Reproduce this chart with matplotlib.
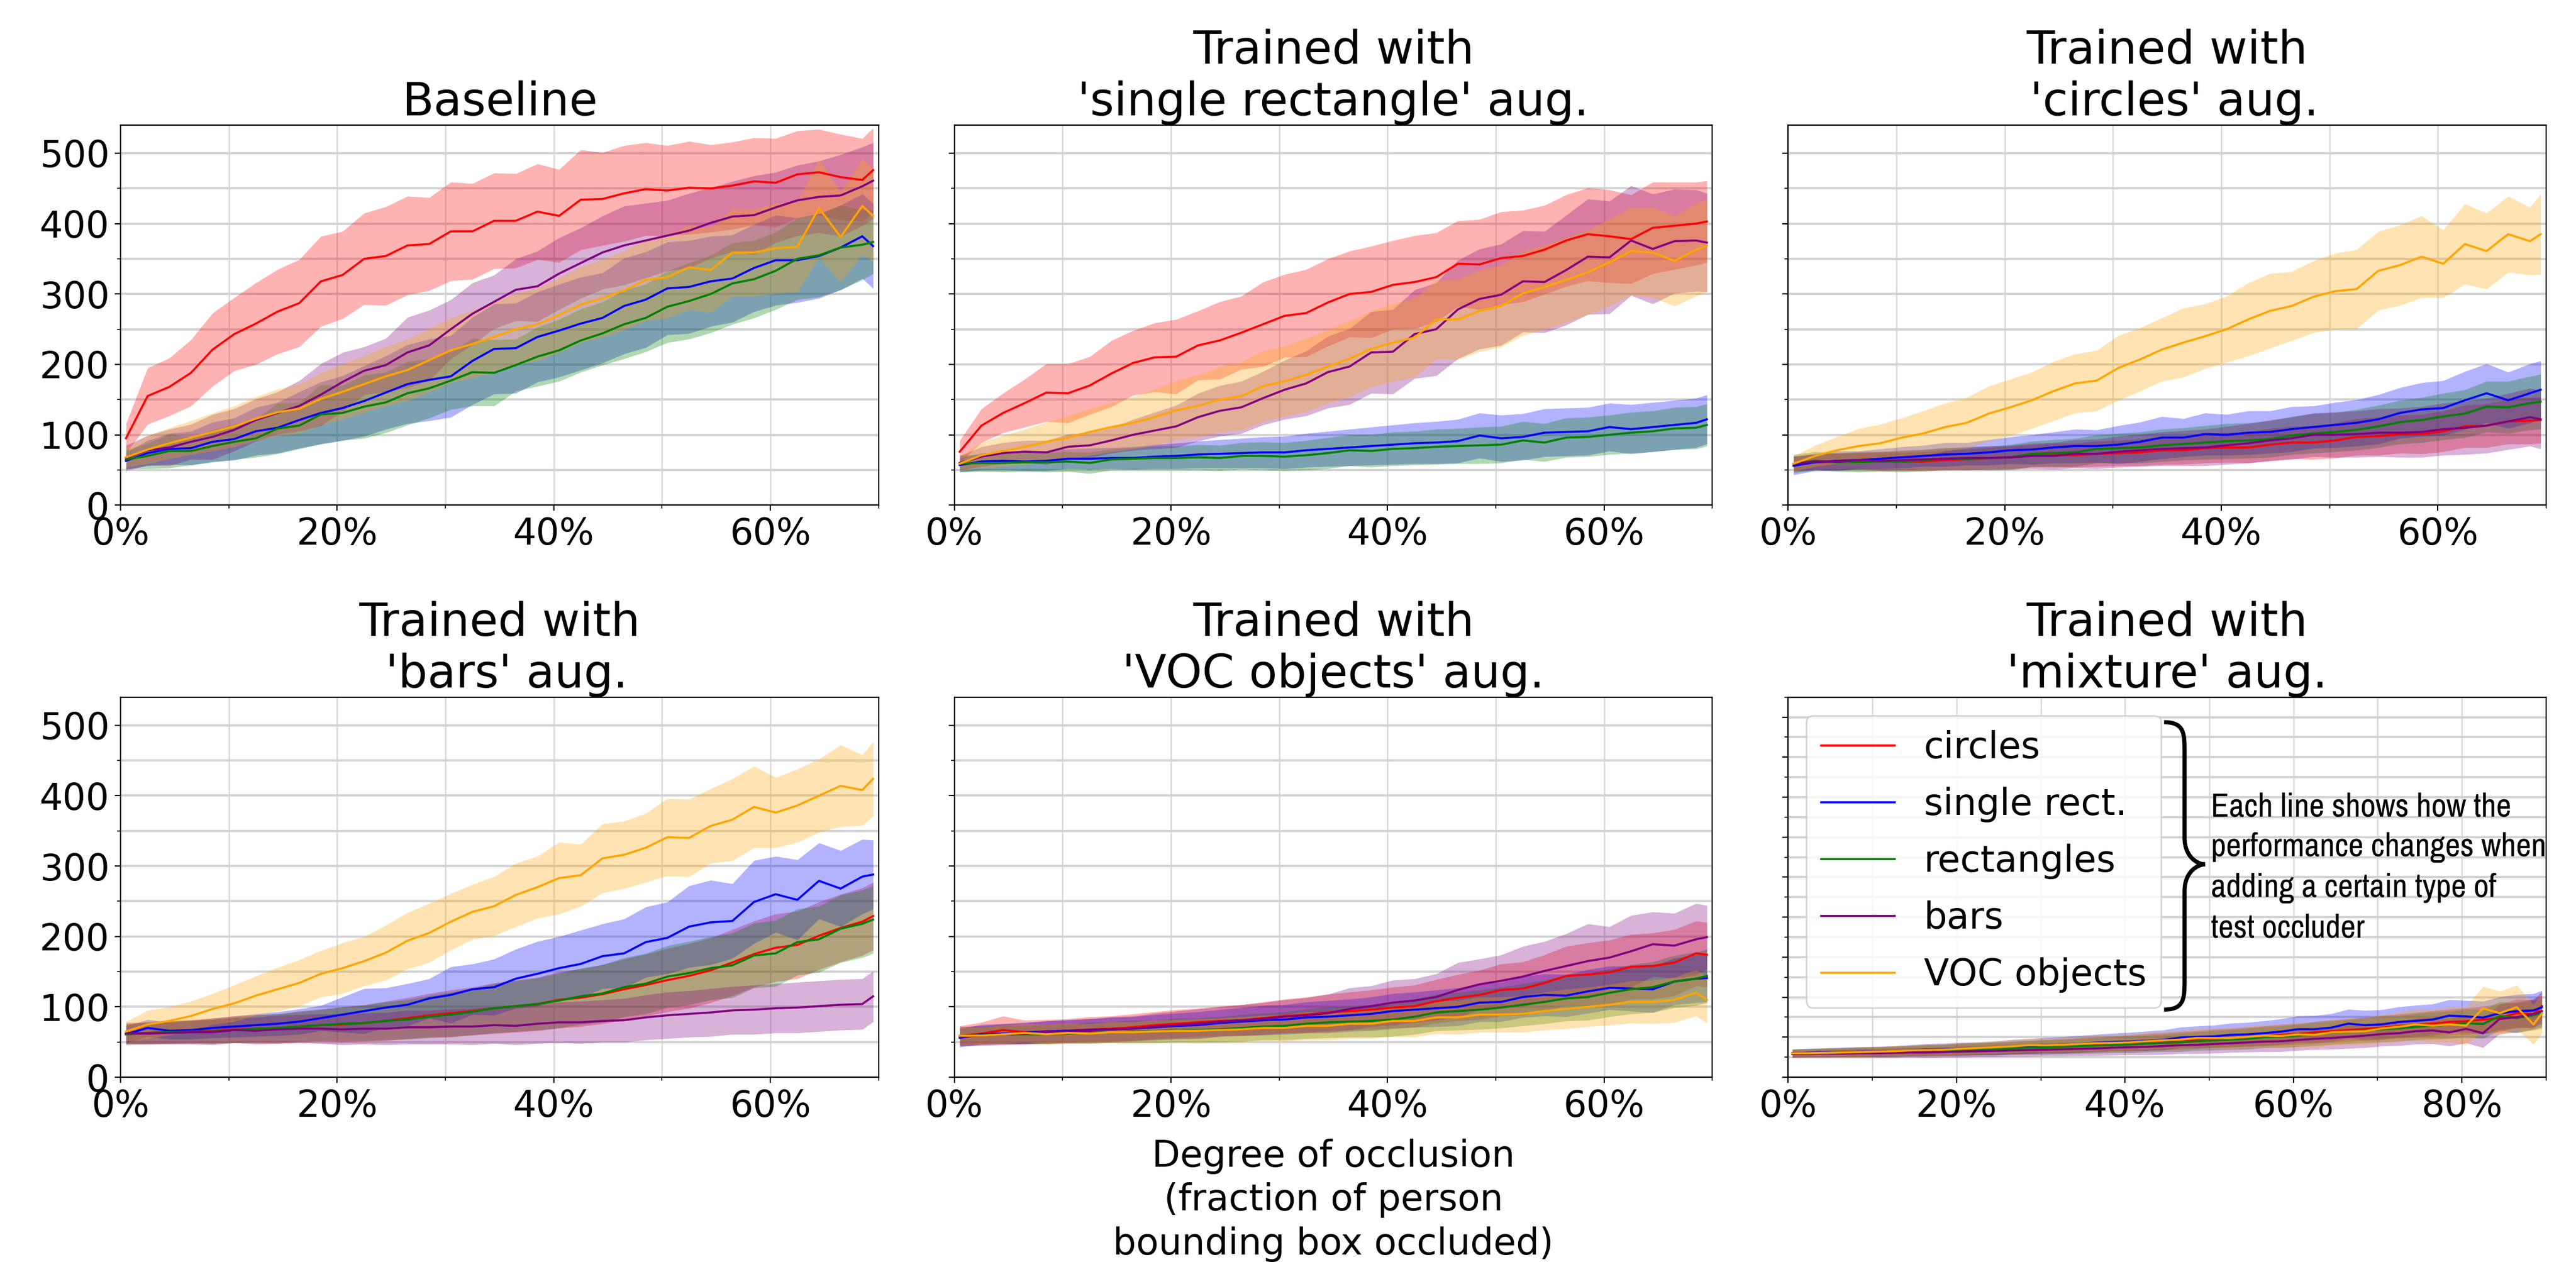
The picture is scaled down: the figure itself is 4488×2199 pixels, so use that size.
import numpy as np
import matplotlib
matplotlib.use("Agg")
import matplotlib.pyplot as plt
from matplotlib import font_manager
from matplotlib.ticker import MultipleLocator, PercentFormatter
from matplotlib.path import Path
from matplotlib.patches import PathPatch

# occlusion fractions (x) - panels 1-5 go to 70%, the mixture panel to 90%
OCC = np.r_[np.arange(0.5, 69, 2), 69.5] / 100
OCC_MIX = np.r_[np.arange(0.5, 89, 2), 89.5] / 100

LABELS = ["circles", "single rect.", "rectangles", "bars", "VOC objects"]
COLORS = ["red", "blue", "green", "purple", "orange"]
TITLES = ["Baseline",
          "Trained with\n'single rectangle' aug.",
          "Trained with\n 'circles' aug.",
          "Trained with\n 'bars' aug.",
          "Trained with\n'VOC objects' aug.",
          "Trained with\n'mixture' aug."]
NOTE_LINES = ["Each line shows how the", "performance changes when",
              "adding a certain type of", "test occluder"]

# --- Baseline ---
base_circ = [95,155,168,188,221,243,258,275,287,318,327,350,354,369,371,389,389,404,404,417,411,434,435,443,449,447,451,450,454,460,458,470,473,466,462,476]
base_circ_sd = [21,40,41,47,52,52,58,60,62,64,62,65,70,70,66,70,68,68,67,68,66,71,66,68,66,64,66,62,62,62,63,62,61,61,59,60]
base_srect = [63,74,80,81,90,94,105,110,121,131,138,148,160,172,178,183,205,222,223,239,248,258,266,283,292,308,310,318,322,337,348,348,354,366,382,368]
base_srect_sd = [12,18,22,24,28,30,34,36,40,44,46,50,52,56,58,58,62,64,64,64,66,66,64,68,68,66,66,64,62,62,64,60,60,60,60,60]
base_rect = [65,70,77,77,84,90,95,109,113,129,131,140,146,159,166,177,189,188,199,211,220,234,244,257,266,282,290,300,315,321,333,350,355,366,370,374]
base_rect_sd = [13,18,24,20,23,25,27,36,33,42,39,45,43,45,42,41,48,47,37,42,44,45,45,49,48,51,54,55,58,55,55,58,59,60,50,45]
base_bars = [67,78,82,90,97,107,121,131,141,157,175,191,199,217,227,250,272,289,306,311,329,344,359,369,376,383,390,401,410,412,423,433,438,440,453,461]
base_bars_sd = [18,21,26,25,32,30,30,30,36,44,42,34,38,50,50,42,44,38,44,50,51,50,52,56,53,50,53,50,50,56,50,50,51,58,56,54]
base_voc = [68,79,88,96,104,112,123,132,137,151,161,172,183,192,206,220,229,239,250,257,270,285,294,305,320,324,338,334,359,359,365,367,422,381,425,411]
base_voc_sd = [14,20,22,24,27,29,31,33,35,37,39,40,42,44,45,46,48,50,51,52,53,54,55,56,58,58,60,60,62,62,64,64,70,64,68,66]

# --- single rectangle aug. ---
sr_circ = [76,113,131,145,160,159,170,187,202,210,211,227,234,245,257,269,273,288,300,303,313,317,324,343,342,351,354,363,376,385,382,378,394,397,400,403]
sr_circ_sd = [16,24,28,34,41,42,41,47,46,49,53,49,55,52,60,59,62,62,61,65,63,66,63,61,64,66,65,63,65,66,66,63,65,62,59,58]
sr_srect = [57,62,63,62,63,66,66,67,67,69,70,72,73,74,75,75,78,80,82,84,86,88,89,91,99,95,97,103,104,105,111,108,111,114,117,122]
sr_srect_sd = [10,12,13,13,14,14,15,15,16,17,18,19,20,21,22,23,24,25,26,27,28,29,30,31,32,33,33,34,34,34,34,35,35,35,35,35]
sr_rect = [59,60,60,61,61,62,60,65,66,67,67,68,67,70,70,69,71,74,78,77,80,81,83,84,85,86,92,89,96,97,100,103,105,109,110,114]
sr_rect_sd = [12,12,13,13,14,14,15,15,16,17,17,18,18,19,20,20,21,22,22,23,24,24,25,25,26,26,27,27,28,28,28,29,29,30,30,30]
sr_bars = [60,69,74,76,75,83,85,92,100,106,112,125,134,139,152,164,173,189,197,217,218,243,250,278,293,299,318,317,334,353,352,376,364,375,376,373]
sr_bars_sd = [10,14,15,16,17,18,18,18,22,26,30,34,36,37,38,42,46,51,54,58,60,63,66,70,71,72,72,72,78,82,80,78,78,74,72,70]
sr_voc = [59,71,77,83,90,96,104,111,117,125,135,141,150,155,169,176,185,197,208,222,231,238,264,264,276,283,301,310,320,331,345,361,359,347,363,369]
sr_voc_sd = [10,18,22,25,28,31,33,35,37,40,42,44,46,48,50,50,52,52,54,54,55,56,56,57,58,58,60,60,60,60,62,62,64,64,66,66]

# --- circles aug. ---
ci_circ = [59,61,62,62,62,62,62,64,65,67,68,70,71,71,73,74,75,78,78,81,82,82,86,89,89,92,97,98,101,101,105,112,113,119,120,121]
ci_circ_sd = [11,11,12,12,13,13,14,14,15,15,16,16,17,17,18,18,19,20,20,21,21,22,23,23,24,25,26,27,27,28,29,30,31,32,33,33]
ci_srect = [56,61,63,64,66,68,70,72,73,75,78,79,82,84,84,86,90,96,96,101,100,103,104,108,111,114,117,122,131,136,138,149,159,149,159,164]
ci_srect_sd = [13,12,14,13,14,15,15,17,16,18,19,21,22,24,23,27,28,30,27,30,29,31,30,32,30,32,33,35,36,38,39,41,42,40,42,41]
ci_rect = [59,63,61,61,62,62,64,66,66,67,68,73,74,75,80,81,82,85,87,89,91,92,94,99,102,104,107,112,118,121,126,130,140,139,145,147]
ci_rect_sd = [13,13,13,14,14,15,15,16,16,17,18,18,19,20,20,21,22,23,23,24,25,25,26,27,28,28,29,30,31,32,33,34,36,37,38,39]
ci_bars = [59,62,62,64,63,64,65,66,67,67,68,70,70,73,73,76,78,80,81,82,85,88,92,95,100,100,101,103,103,104,108,110,113,119,125,122]
ci_bars_sd = [10,11,12,12,13,14,14,15,16,17,17,18,19,20,21,22,23,24,25,26,27,28,29,30,31,32,33,34,35,36,37,38,39,40,41,42]
ci_voc = [59,70,78,84,88,96,102,111,117,130,139,149,162,173,177,195,207,221,231,240,250,264,276,283,296,304,307,333,341,353,343,371,361,385,375,385]
ci_voc_sd = [11,15,19,25,27,28,32,34,36,39,40,40,42,42,43,46,45,45,49,46,47,52,53,49,51,54,56,56,57,58,48,57,54,54,48,57]

# --- bars aug. ---
ba_circ = [61,63,64,65,66,68,69,69,72,74,75,77,80,84,88,91,94,98,101,104,110,113,118,125,131,138,144,152,163,175,184,188,201,212,221,229]
ba_circ_sd = [15,16,16,17,18,19,20,21,22,23,25,26,28,29,31,33,34,36,37,38,40,41,42,43,44,45,46,46,47,47,48,48,48,48,48,48]
ba_srect = [61,70,66,67,70,72,74,76,79,84,89,94,99,103,112,117,125,128,140,147,155,161,172,176,192,198,214,220,222,249,260,252,279,268,285,288]
ba_srect_sd = [12,12,12,13,14,15,16,17,18,18,25,32,28,30,28,40,36,40,42,46,45,48,46,49,50,51,58,60,53,59,54,57,54,54,53,49]
ba_rect = [61,63,64,65,65,67,69,70,72,74,76,77,80,82,86,89,93,98,101,104,109,115,119,128,133,143,148,155,159,173,176,192,196,211,218,224]
ba_rect_sd = [14,15,16,16,17,18,19,20,21,22,24,25,27,28,30,32,33,35,36,37,39,40,41,42,43,44,45,45,46,46,47,47,47,48,48,48]
ba_bars = [63,62,63,64,64,67,66,68,69,69,68,69,69,71,71,72,72,74,73,76,78,78,80,81,85,88,90,92,95,96,98,99,101,103,104,115]
ba_bars_sd = [15,15,16,17,18,18,19,20,20,21,22,22,23,24,24,25,26,26,27,28,29,30,30,31,32,33,33,34,34,35,35,36,36,36,36,36]
ba_voc = [65,75,80,87,97,105,116,125,134,147,155,165,177,194,205,221,235,243,259,270,283,287,311,316,326,341,340,357,366,384,376,386,400,414,408,424]
ba_voc_sd = [14,20,20,21,22,26,28,31,33,33,36,35,39,40,42,40,39,42,45,44,51,44,49,48,49,55,55,53,58,58,50,52,52,58,50,53]

# --- VOC objects aug. ---
vo_circ = [59,62,67,64,65,66,68,69,71,74,76,78,80,81,84,87,89,92,94,96,99,101,108,113,117,124,126,134,144,146,149,157,158,163,176,174]
vo_circ_sd = [14,16,20,17,17,17,18,18,19,19,20,20,21,22,23,24,25,26,27,28,29,30,31,33,35,37,38,40,42,45,46,46,47,47,46,46]
vo_srect = [56,61,62,63,65,66,67,68,69,71,73,74,77,79,81,82,85,86,88,90,94,96,98,100,106,107,114,117,116,122,127,126,125,136,140,141]
vo_srect_sd = [13,14,14,15,15,16,16,17,17,18,18,19,19,20,21,21,22,23,23,24,25,25,26,27,27,28,29,30,30,31,31,32,33,33,34,34]
vo_rect = [59,60,61,61,61,62,63,64,65,65,67,67,68,70,72,73,76,78,79,80,82,86,92,94,96,99,103,107,112,114,120,125,128,136,140,144]
vo_rect_sd = [12,12,13,13,14,14,15,15,16,16,17,17,18,19,19,20,21,22,22,23,24,25,26,27,28,29,30,31,32,33,34,35,36,37,38,38]
vo_bars = [58,59,61,62,64,65,66,68,69,72,74,76,79,81,83,86,88,91,97,101,106,109,114,124,132,137,143,151,158,165,170,179,189,187,196,199]
vo_bars_sd = [14,14,15,15,16,16,17,18,18,19,20,21,21,22,23,24,25,27,30,29,32,31,33,39,36,37,43,42,46,53,44,51,46,46,51,45]
vo_voc = [59,59,61,63,61,63,62,64,64,65,66,66,67,68,70,70,73,73,76,76,80,80,85,85,89,89,90,94,97,100,103,107,107,110,120,110]
vo_voc_sd = [12,12,13,13,14,14,14,15,15,16,16,17,17,18,18,19,20,20,21,21,22,23,23,24,25,25,26,27,28,28,29,30,31,32,33,33]

# --- mixture aug. (to 90%) ---
mx_circ = [60,61,62,62,63,64,65,66,67,68,70,71,72,74,75,77,78,80,82,84,85,88,90,92,94,97,98,101,103,106,108,112,115,118,121,124,128,131,134,138,140,144,148,160,158,178]
mx_circ_sd = [10,10,11,11,12,12,13,13,14,14,15,15,16,16,17,17,18,18,19,19,20,21,21,22,22,23,24,24,25,26,26,27,28,28,29,30,30,31,32,32,33,34,35,35,36,36]
mx_srect = [60,61,62,63,64,64,65,67,69,70,71,72,73,76,78,80,81,83,86,88,89,91,93,99,101,102,106,107,110,114,120,120,124,134,130,132,138,141,144,154,152,149,160,165,167,175]
mx_srect_sd = [10,11,11,12,12,13,13,14,15,15,16,16,17,18,18,19,20,21,21,22,23,24,25,26,27,28,29,30,31,32,33,34,35,36,37,37,38,39,39,40,40,41,41,42,42,42]
mx_rect = [60,61,61,62,63,63,64,66,67,68,69,70,71,72,74,75,76,78,79,81,82,84,86,87,90,92,94,96,100,101,104,108,111,114,117,120,122,126,129,131,135,133,153,148,155,160]
mx_rect_sd = [10,10,11,11,12,12,13,13,14,14,15,15,16,16,17,18,18,19,19,20,21,21,22,23,23,24,25,26,26,27,28,29,29,30,31,32,32,33,34,34,35,36,36,37,37,38]
mx_bars = [58,58,59,59,60,60,61,62,62,63,64,65,66,67,68,69,70,71,72,74,75,76,78,80,81,83,85,87,89,90,93,96,98,101,104,108,110,115,117,112,121,110,146,150,158,165]
mx_bars_sd = [9,9,10,10,11,11,12,12,13,13,14,14,15,15,16,16,17,17,18,19,19,20,21,21,22,23,23,24,25,26,26,27,28,29,30,30,31,32,33,34,35,36,37,38,38,39]
mx_voc = [60,60,61,62,63,64,65,67,68,69,71,73,75,77,80,80,81,83,85,86,87,90,92,94,98,98,98,101,104,103,107,106,112,114,115,122,126,132,129,132,129,172,160,175,132,160]
mx_voc_sd = [10,10,11,11,12,12,13,13,14,14,15,15,16,17,17,18,18,19,20,20,21,22,22,23,24,25,26,27,28,29,30,31,32,33,34,35,37,39,41,44,48,55,55,55,50,50]

PANELS = [
    (OCC, [base_circ, base_srect, base_rect, base_bars, base_voc],
     [base_circ_sd, base_srect_sd, base_rect_sd, base_bars_sd, base_voc_sd]),
    (OCC, [sr_circ, sr_srect, sr_rect, sr_bars, sr_voc],
     [sr_circ_sd, sr_srect_sd, sr_rect_sd, sr_bars_sd, sr_voc_sd]),
    (OCC, [ci_circ, ci_srect, ci_rect, ci_bars, ci_voc],
     [ci_circ_sd, ci_srect_sd, ci_rect_sd, ci_bars_sd, ci_voc_sd]),
    (OCC, [ba_circ, ba_srect, ba_rect, ba_bars, ba_voc],
     [ba_circ_sd, ba_srect_sd, ba_rect_sd, ba_bars_sd, ba_voc_sd]),
    (OCC, [vo_circ, vo_srect, vo_rect, vo_bars, vo_voc],
     [vo_circ_sd, vo_srect_sd, vo_rect_sd, vo_bars_sd, vo_voc_sd]),
    (OCC_MIX, [mx_circ, mx_srect, mx_rect, mx_bars, mx_voc],
     [mx_circ_sd, mx_srect_sd, mx_rect_sd, mx_bars_sd, mx_voc_sd]),
]

plt.rcParams["font.family"] = "DejaVu Sans"


def pick_narrow_font():
    # the side note is set in a condensed face; use one if the system has it
    fonts = font_manager.fontManager.ttflist
    for f in fonts:
        if "Narrow" in f.name or "Condensed" in f.name:
            return {"family": [f.name, "DejaVu Sans"]}
    for f in fonts:
        if f.stretch in ("condensed", "semi-condensed", "extra-condensed"):
            return {"family": [f.name, "DejaVu Sans"], "fontstretch": f.stretch}
    return {"family": ["DejaVu Sans"]}


def draw_brace(ax):
    # curly brace next to the legend, in axes coordinates
    x0, xm, xt = 0.496, 0.523, 0.550
    top, mid, bot = 0.934, 0.560, 0.178
    verts = [(x0, top), (xm, top), (xm, top - 0.03), (xm, top - 0.08),
             (xm, mid + 0.07),
             (xm, mid + 0.02), (xt - 0.01, mid), (xt, mid),
             (xt - 0.01, mid), (xm, mid - 0.02), (xm, mid - 0.07),
             (xm, bot + 0.08),
             (xm, bot + 0.03), (xm, bot), (x0, bot)]
    codes = [Path.MOVETO, Path.CURVE4, Path.CURVE4, Path.CURVE4,
             Path.LINETO,
             Path.CURVE4, Path.CURVE4, Path.CURVE4,
             Path.CURVE4, Path.CURVE4, Path.CURVE4,
             Path.LINETO,
             Path.CURVE4, Path.CURVE4, Path.CURVE4]
    ax.add_patch(PathPatch(Path(verts, codes), transform=ax.transAxes,
                           fill=False, lw=2.6, color="black", zorder=6,
                           clip_on=False))


fig, axs = plt.subplots(2, 3, figsize=(22.44, 10.995), dpi=200)
fig.subplots_adjust(left=0.0468, right=0.9884, bottom=0.1464, top=0.9009,
                    wspace=0.1, hspace=0.505)
axs = axs.ravel()

for i, (ax, (x, means, sds)) in enumerate(zip(axs, PANELS)):
    for m, sd, c, lab in zip(means, sds, COLORS, LABELS):
        m = np.asarray(m, float)
        sd = np.asarray(sd, float)
        ax.fill_between(x, m - sd, m + sd, color=c, alpha=0.3, lw=0)
        ax.plot(x, m, color=c, lw=1.3, label=lab)

    ax.set_title(TITLES[i], fontsize=29)
    ax.xaxis.set_major_locator(MultipleLocator(0.2))
    ax.xaxis.set_minor_locator(MultipleLocator(0.1))
    ax.xaxis.set_major_formatter(PercentFormatter(xmax=1, decimals=0))
    ax.yaxis.set_major_locator(MultipleLocator(100))
    ax.yaxis.set_minor_locator(MultipleLocator(50))
    ax.grid(True, which="both", axis="x", color="#d9d9d9", lw=0.9)
    ax.grid(True, which="both", axis="y", color="#d3d3d3", lw=1.4)
    ax.set_axisbelow(True)
    ax.tick_params(labelsize=23)

    if i == 5:
        ax.set_xlim(0, 0.9)
        ax.set_ylim(0, 950)
        ax.tick_params(labelleft=False)
    else:
        ax.set_xlim(0, 0.7)
        ax.set_ylim(0, 540)
        if i % 3 != 0:
            ax.tick_params(labelleft=False)

axs[4].set_xlabel("Degree of occlusion\n(fraction of person\nbounding box occluded)",
                  fontsize=23, labelpad=9, linespacing=1.3)

axs[5].legend(loc="upper left", fontsize=23, labelspacing=0.58)
draw_brace(axs[5])

note = axs[5].text(0.558, 0.75, "\n".join(NOTE_LINES),
                   transform=axs[5].transAxes, ha="left", va="top",
                   fontsize=20, linespacing=1.0, zorder=7, **pick_narrow_font())

# fit the note: widest line about 585 px, line pitch about 75 px
fig.canvas.draw()
renderer = fig.canvas.get_renderer()
w = note.get_window_extent(renderer).width
note.set_fontsize(20 * 585 / w)
one = axs[5].text(0, 0, NOTE_LINES[0], fontsize=note.get_fontsize(),
                  fontproperties=note.get_fontproperties())
h1 = one.get_window_extent(renderer).height
h4 = note.get_window_extent(renderer).height
one.remove()
pitch = (h4 - h1) / 3.0
if pitch > 0:
    note.set_linespacing(75.0 / pitch)

fig.savefig("out.png", dpi=200)
